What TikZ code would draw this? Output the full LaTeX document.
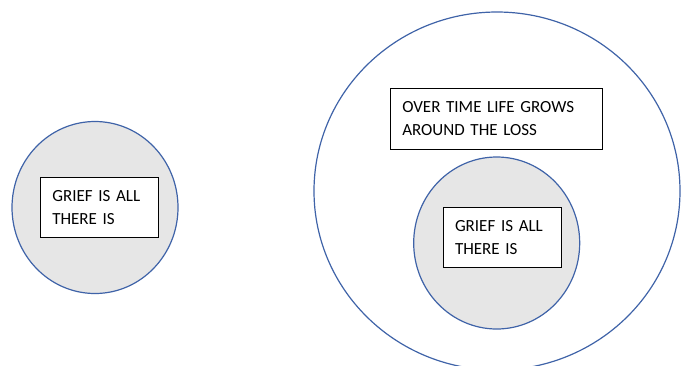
\documentclass[tikz,border=0pt]{standalone}
\usepackage{fontspec}
\setmainfont{Carlito}
\usetikzlibrary{shapes.geometric}
\definecolor{ringblue}{HTML}{3F63A8}
\definecolor{griefgray}{HTML}{E6E6E6}
\tikzset{
  ring/.style={ellipse, draw=ringblue, line width=1.2pt, inner sep=0pt},
  griefring/.style={ring, fill=griefgray, minimum width=166pt, minimum height=172pt},
  labelbox/.style={rectangle, draw=black, line width=1pt, fill=white, inner xsep=11.6pt, inner ysep=0pt, align=left,
    font=\fontsize{17}{23.4}\selectfont}
}
\begin{document}
\begin{tikzpicture}[x=1pt,y=-1pt]
\useasboundingbox (0,0) rectangle (686,365);
\node[ring, minimum width=366pt, minimum height=358pt] (outer) at (497,191) {};
\node[griefring] (left) at (95,207.5) {};
\node[griefring] (inner) at (496.7,243) {};
\node[labelbox, text width=94.4pt, minimum height=59.3pt] (leftbox) at (99.5,207.35) {GRIEF IS ALL\\THERE IS};
\node[labelbox, text width=94.6pt, minimum height=60.4pt] (innerbox) at (502.3,237.5) {GRIEF IS ALL\\THERE IS};
\node[labelbox, text width=188.4pt, minimum height=60.7pt] (topbox) at (496.5,118.65) {OVER TIME LIFE GROWS\\AROUND THE LOSS};
\end{tikzpicture}
\end{document}
